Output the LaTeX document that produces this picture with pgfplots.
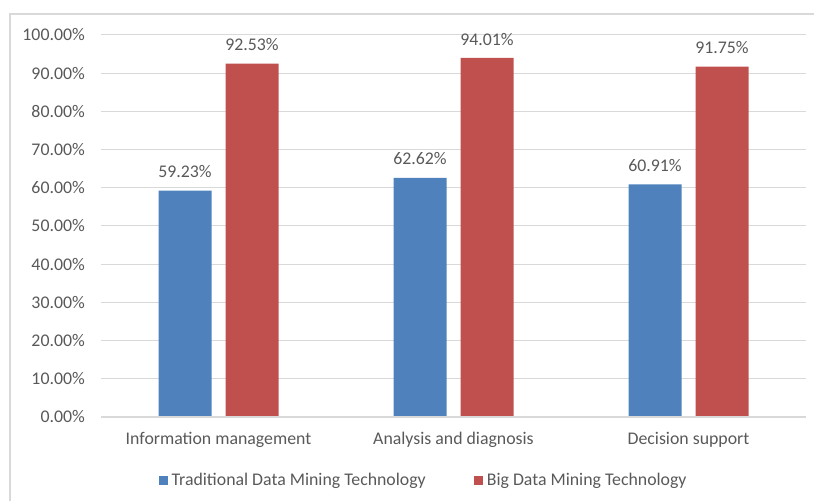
\documentclass[border=0pt]{standalone}
\usepackage{pgfplots}
\pgfplotsset{compat=1.18}
\usepackage{fontspec}
\setmainfont{Carlito}
\definecolor{tblue}{HTML}{4F81BD}
\definecolor{tred}{HTML}{C0504D}
\definecolor{gridc}{HTML}{D9D9D9}
\definecolor{txt}{HTML}{595959}
\begin{document}
\begin{tikzpicture}[x=1pt,y=1pt]
\useasboundingbox (0,0) rectangle (814,501);
\draw[gridc, line width=1.2pt] (10,0) -- (10,487) -- (814,487);
\begin{axis}[
  at={(101pt,84pt)}, anchor=south west,
  scale only axis, width=705pt, height=382pt,
  xmin=-0.5, xmax=2.5, ymin=0, ymax=100,
  ybar=14pt, bar width=53pt,
  xtick={0,1,2},
  xticklabels={Information management, Analysis and diagnosis, Decision support},
  ytick={0,10,...,100},
  /pgf/number format/assume math mode=true,
  yticklabel={\pgfmathprintnumber[fixed,fixed zerofill,precision=2]{\tick}\%},
  ymajorgrids, grid style={gridc, line width=1pt},
  axis line style={draw=none},
  axis x line*=bottom, axis y line*=left,
  major tick length=0pt,
  tick style={draw=none},
  ticklabel style={font=\fontsize{17.8}{20}\selectfont, text=txt},
  yticklabel style={anchor=east, inner sep=0pt, xshift=-16pt},
  xticklabel style={anchor=north, inner sep=0pt, yshift=-15pt},
  nodes near coords={\pgfmathprintnumber[fixed,fixed zerofill,precision=2]{\pgfplotspointmeta}\%},
  nodes near coords style={font=\fontsize{17.8}{20}\selectfont, text=txt, anchor=south, inner sep=0pt, yshift=12.5pt},
  legend columns=2,
  legend style={at={(0.459,-0.165)}, anchor=center, draw=none, fill=none,
    font=\fontsize{17.8}{20}\selectfont, text=txt,
    nodes={inner xsep=4pt},
    /tikz/every even column/.append style={column sep=44pt},
    inner sep=0pt},
  legend image code/.code={\fill[#1, draw=none] (0pt,-4.5pt) rectangle (9pt,4.5pt);},
  clip=false,
]
\addplot[fill=tblue, draw=none] coordinates {(0,59.23) (1,62.62) (2,60.91)};
\addplot[fill=tred, draw=none] coordinates {(0,92.53) (1,94.01) (2,91.75)};
\draw[gridc, line width=1.2pt] (axis cs:-0.5,0) -- (axis cs:2.5,0);
\legend{Traditional Data Mining Technology, Big Data Mining Technology}
\end{axis}
\end{tikzpicture}
\end{document}
